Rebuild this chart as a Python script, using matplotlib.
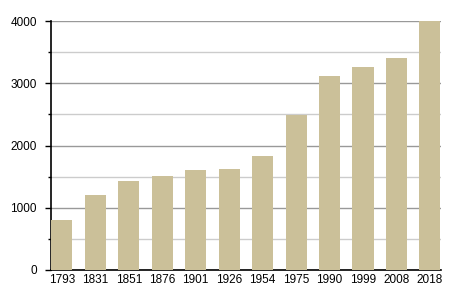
import matplotlib
matplotlib.use('Agg')
import matplotlib.pyplot as plt
from matplotlib.ticker import MultipleLocator

plt.rcParams['font.family'] = ['Liberation Sans', 'DejaVu Sans']

# Daten
years = ['1793', '1831', '1851', '1876', '1901', '1926', '1954', '1975', '1990', '1999', '2008', '2018']
values = [800, 1200, 1430, 1510, 1605, 1620, 1830, 2490, 3110, 3260, 3400, 4000]

fig = plt.figure(figsize=(4.5, 3), dpi=100)
ax = fig.add_axes([0.113, 0.1, 0.867, 0.83])

x = range(len(years))
ax.bar(x, values, width=0.63, color='#CBC099', zorder=3)

ax.set_xlim(-0.33, len(years) - 0.67)
ax.set_ylim(0, 4000)
ax.set_xticks(list(x))
ax.set_xticklabels(years)

ax.yaxis.set_major_locator(MultipleLocator(1000))
ax.yaxis.set_minor_locator(MultipleLocator(500))
ax.grid(axis='y', which='major', color='#999999', linewidth=1, zorder=0)
ax.grid(axis='y', which='minor', color='#cccccc', linewidth=1, zorder=0)

for s in ['top', 'right']:
    ax.spines[s].set_visible(False)
ax.spines['left'].set_linewidth(1.2)
ax.spines['bottom'].set_linewidth(1.2)

ax.tick_params(axis='y', which='major', length=4, width=1, labelsize=8.5, pad=6)
ax.tick_params(axis='y', which='minor', length=2, width=1)
ax.tick_params(axis='x', length=0, labelsize=8.5, pad=3)

fig.savefig('out.png', dpi=100)
